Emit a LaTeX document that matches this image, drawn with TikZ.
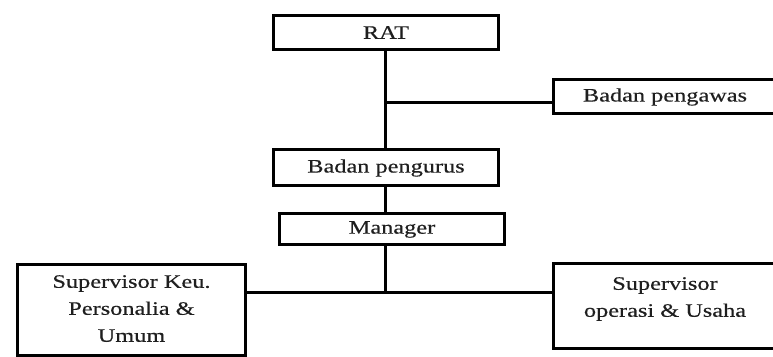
\documentclass[tikz,border=0pt]{standalone}
\usepackage{fontspec}
\newfontfamily\labfont[FakeStretch=1.28,FakeBold=0.4]{Liberation Serif}
\begin{document}
\begin{tikzpicture}[x=1pt,y=-1pt,
  box/.style={draw=black, line width=3pt, inner sep=0pt, fill=white},
  lab/.style={font=\labfont\fontsize{19}{27}\selectfont, text=black!88, align=center, inner sep=0pt},
  conn/.style={draw=black, line width=3pt}]
\useasboundingbox (0,0) rectangle (773,356);
\clip (0,0) rectangle (773,356);
% boxes
\node[box, minimum width=225pt, minimum height=34pt] (rat) at (386,32.5) {};
\node[lab] (ratt) at (386,32.5) {RAT};
\node[box, minimum width=224pt, minimum height=34pt] (pw) at (665,96.5) {};
\node[lab] (pwt) at (665,97) {Badan pengawas};
\node[box, minimum width=225pt, minimum height=36pt] (bpg) at (386,167.5) {};
\node[lab] (bpgt) at (386,168) {Badan pengurus};
\node[box, minimum width=225pt, minimum height=31pt] (mgr) at (392,229) {};
\node[lab] (mgrt) at (392,229.5) {Manager};
\node[box, minimum width=228pt, minimum height=91pt] (sk) at (131.5,310) {};
\node[lab, anchor=north] (skt) at (131.5,275) {Supervisor Keu.\\Personalia \&\\Umum};
\node[box, minimum width=223pt, minimum height=85pt] (so) at (665,306) {};
\node[lab, anchor=north] (sot) at (665,277) {Supervisor\\operasi \& Usaha};
% junctions
\coordinate (j1) at (385,102);
\coordinate (j2) at (385,292);
% connectors
\draw[conn] (j1 |- rat.south) -- (j1 |- bpg.north);
\draw[conn] (j1) -- (j1 -| pw.west);
\draw[conn] (j1 |- bpg.south) -- (j1 |- mgr.north);
\draw[conn] (j2 |- mgr.south) -- (j2);
\draw[conn] (j2 -| sk.east) -- (j2 -| so.west);
\end{tikzpicture}
\end{document}
